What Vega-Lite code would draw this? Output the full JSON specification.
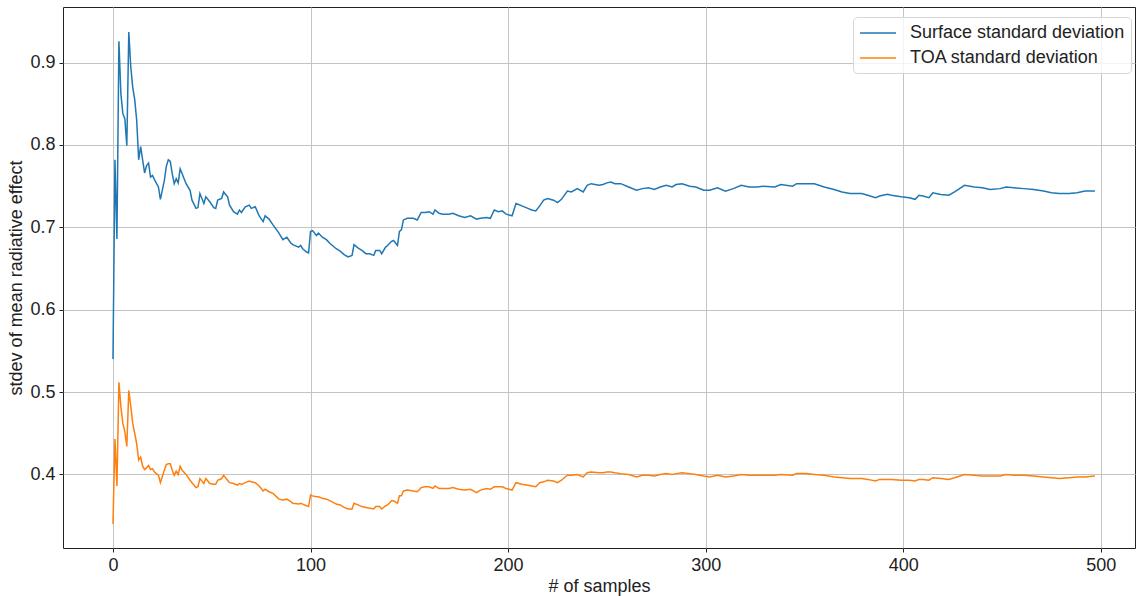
{
  "$schema": "https://vega.github.io/schema/vega-lite/v6.json",
  "autosize": {"type": "none"},
  "padding": {"left": 63, "top": 7, "right": 1, "bottom": 48},
  "width": 1072,
  "height": 541,
  "background": "white",
  "config": {
    "font": "Liberation Sans",
    "view": {"stroke": "#222", "strokeWidth": 1},
    "axis": {
      "labelFont": "Liberation Sans",
      "titleFont": "Liberation Sans",
      "labelFontSize": 18,
      "titleFontSize": 18,
      "titleFontWeight": "normal",
      "labelColor": "#222",
      "titleColor": "#222",
      "gridColor": "#c4c4c4",
      "gridWidth": 1,
      "tickColor": "#222",
      "tickSize": 4,
      "domain": false
    }
  },
  "data": {
    "values": [
      {"n":0,"surface":0.540,"toa":0.340},
      {"n":1,"surface":0.782,"toa":0.443},
      {"n":2,"surface":0.686,"toa":0.386},
      {"n":3,"surface":0.926,"toa":0.512},
      {"n":4,"surface":0.862,"toa":0.482},
      {"n":5,"surface":0.838,"toa":0.462},
      {"n":6,"surface":0.832,"toa":0.452},
      {"n":7,"surface":0.799,"toa":0.434},
      {"n":8,"surface":0.937,"toa":0.502},
      {"n":9,"surface":0.895,"toa":0.483},
      {"n":10,"surface":0.870,"toa":0.462},
      {"n":11,"surface":0.855,"toa":0.450},
      {"n":12,"surface":0.830,"toa":0.437},
      {"n":13,"surface":0.782,"toa":0.4175},
      {"n":14,"surface":0.798,"toa":0.421},
      {"n":15,"surface":0.782,"toa":0.410},
      {"n":16,"surface":0.766,"toa":0.406},
      {"n":17,"surface":0.775,"toa":0.408},
      {"n":18,"surface":0.778,"toa":0.411},
      {"n":19,"surface":0.761,"toa":0.406},
      {"n":20,"surface":0.763,"toa":0.407},
      {"n":21,"surface":0.758,"toa":0.403},
      {"n":23,"surface":0.749,"toa":0.399},
      {"n":24,"surface":0.734,"toa":0.390},
      {"n":26,"surface":0.757,"toa":0.405},
      {"n":27,"surface":0.774,"toa":0.412},
      {"n":28,"surface":0.782,"toa":0.413},
      {"n":29,"surface":0.780,"toa":0.413},
      {"n":30,"surface":0.765,"toa":0.405},
      {"n":31,"surface":0.753,"toa":0.399},
      {"n":32,"surface":0.759,"toa":0.404},
      {"n":33,"surface":0.754,"toa":0.400},
      {"n":34,"surface":0.771,"toa":0.410},
      {"n":35,"surface":0.765,"toa":0.405},
      {"n":37,"surface":0.753,"toa":0.400},
      {"n":39,"surface":0.745,"toa":0.393},
      {"n":40,"surface":0.733,"toa":0.390},
      {"n":42,"surface":0.723,"toa":0.384},
      {"n":43,"surface":0.724,"toa":0.385},
      {"n":44,"surface":0.741,"toa":0.395},
      {"n":46,"surface":0.729,"toa":0.389},
      {"n":47,"surface":0.737,"toa":0.395},
      {"n":49,"surface":0.731,"toa":0.389},
      {"n":51,"surface":0.724,"toa":0.388},
      {"n":52,"surface":0.723,"toa":0.388},
      {"n":53,"surface":0.733,"toa":0.393},
      {"n":55,"surface":0.735,"toa":0.395},
      {"n":56,"surface":0.743,"toa":0.399},
      {"n":58,"surface":0.737,"toa":0.393},
      {"n":59,"surface":0.727,"toa":0.390},
      {"n":61,"surface":0.719,"toa":0.389},
      {"n":63,"surface":0.716,"toa":0.387},
      {"n":64,"surface":0.721,"toa":0.389},
      {"n":65,"surface":0.718,"toa":0.388},
      {"n":67,"surface":0.725,"toa":0.390},
      {"n":69,"surface":0.727,"toa":0.392},
      {"n":70,"surface":0.723,"toa":0.391},
      {"n":72,"surface":0.725,"toa":0.390},
      {"n":74,"surface":0.714,"toa":0.386},
      {"n":76,"surface":0.707,"toa":0.380},
      {"n":77,"surface":0.714,"toa":0.382},
      {"n":79,"surface":0.710,"toa":0.379},
      {"n":81,"surface":0.703,"toa":0.377},
      {"n":84,"surface":0.693,"toa":0.370},
      {"n":86,"surface":0.685,"toa":0.369},
      {"n":88,"surface":0.688,"toa":0.370},
      {"n":90,"surface":0.681,"toa":0.367},
      {"n":91,"surface":0.679,"toa":0.365},
      {"n":94,"surface":0.676,"toa":0.364},
      {"n":95,"surface":0.678,"toa":0.365},
      {"n":96,"surface":0.674,"toa":0.364},
      {"n":98,"surface":0.670,"toa":0.362},
      {"n":99,"surface":0.669,"toa":0.361},
      {"n":100,"surface":0.695,"toa":0.375},
      {"n":101,"surface":0.696,"toa":0.374},
      {"n":103,"surface":0.690,"toa":0.373},
      {"n":104,"surface":0.693,"toa":0.373},
      {"n":106,"surface":0.688,"toa":0.371},
      {"n":108,"surface":0.685,"toa":0.370},
      {"n":110,"surface":0.680,"toa":0.368},
      {"n":113,"surface":0.674,"toa":0.364},
      {"n":115,"surface":0.671,"toa":0.363},
      {"n":117,"surface":0.667,"toa":0.360},
      {"n":119,"surface":0.664,"toa":0.358},
      {"n":121,"surface":0.666,"toa":0.358},
      {"n":122,"surface":0.679,"toa":0.365},
      {"n":124,"surface":0.675,"toa":0.363},
      {"n":126,"surface":0.672,"toa":0.361},
      {"n":128,"surface":0.668,"toa":0.360},
      {"n":130,"surface":0.668,"toa":0.359},
      {"n":132,"surface":0.666,"toa":0.358},
      {"n":133,"surface":0.672,"toa":0.361},
      {"n":135,"surface":0.672,"toa":0.361},
      {"n":136,"surface":0.668,"toa":0.358},
      {"n":138,"surface":0.676,"toa":0.362},
      {"n":139,"surface":0.678,"toa":0.363},
      {"n":141,"surface":0.683,"toa":0.368},
      {"n":142,"surface":0.684,"toa":0.368},
      {"n":144,"surface":0.678,"toa":0.365},
      {"n":145,"surface":0.695,"toa":0.374},
      {"n":146,"surface":0.697,"toa":0.374},
      {"n":147,"surface":0.709,"toa":0.380},
      {"n":149,"surface":0.711,"toa":0.381},
      {"n":152,"surface":0.711,"toa":0.380},
      {"n":154,"surface":0.709,"toa":0.379},
      {"n":156,"surface":0.718,"toa":0.384},
      {"n":158,"surface":0.718,"toa":0.385},
      {"n":160,"surface":0.719,"toa":0.385},
      {"n":162,"surface":0.716,"toa":0.383},
      {"n":163,"surface":0.721,"toa":0.386},
      {"n":165,"surface":0.717,"toa":0.383},
      {"n":167,"surface":0.716,"toa":0.383},
      {"n":170,"surface":0.716,"toa":0.383},
      {"n":172,"surface":0.717,"toa":0.384},
      {"n":175,"surface":0.714,"toa":0.382},
      {"n":178,"surface":0.712,"toa":0.381},
      {"n":181,"surface":0.714,"toa":0.382},
      {"n":184,"surface":0.710,"toa":0.378},
      {"n":186,"surface":0.711,"toa":0.381},
      {"n":189,"surface":0.712,"toa":0.383},
      {"n":191,"surface":0.711,"toa":0.382},
      {"n":193,"surface":0.721,"toa":0.385},
      {"n":195,"surface":0.719,"toa":0.385},
      {"n":197,"surface":0.720,"toa":0.385},
      {"n":199,"surface":0.716,"toa":0.383},
      {"n":202,"surface":0.714,"toa":0.381},
      {"n":204,"surface":0.729,"toa":0.390},
      {"n":207,"surface":0.726,"toa":0.388},
      {"n":210,"surface":0.723,"toa":0.387},
      {"n":212,"surface":0.721,"toa":0.386},
      {"n":214,"surface":0.720,"toa":0.385},
      {"n":216,"surface":0.726,"toa":0.390},
      {"n":218,"surface":0.733,"toa":0.391},
      {"n":220,"surface":0.735,"toa":0.393},
      {"n":223,"surface":0.733,"toa":0.392},
      {"n":225,"surface":0.730,"toa":0.390},
      {"n":227,"surface":0.734,"toa":0.393},
      {"n":230,"surface":0.744,"toa":0.399},
      {"n":232,"surface":0.743,"toa":0.399},
      {"n":235,"surface":0.747,"toa":0.400},
      {"n":238,"surface":0.743,"toa":0.397},
      {"n":240,"surface":0.751,"toa":0.402},
      {"n":242,"surface":0.753,"toa":0.403},
      {"n":246,"surface":0.751,"toa":0.402},
      {"n":248,"surface":0.752,"toa":0.402},
      {"n":250,"surface":0.754,"toa":0.403},
      {"n":252,"surface":0.755,"toa":0.403},
      {"n":254,"surface":0.753,"toa":0.402},
      {"n":257,"surface":0.753,"toa":0.401},
      {"n":261,"surface":0.749,"toa":0.400},
      {"n":265,"surface":0.745,"toa":0.397},
      {"n":268,"surface":0.747,"toa":0.399},
      {"n":271,"surface":0.748,"toa":0.399},
      {"n":274,"surface":0.746,"toa":0.398},
      {"n":277,"surface":0.749,"toa":0.400},
      {"n":280,"surface":0.751,"toa":0.401},
      {"n":283,"surface":0.749,"toa":0.400},
      {"n":285,"surface":0.752,"toa":0.401},
      {"n":288,"surface":0.753,"toa":0.402},
      {"n":292,"surface":0.750,"toa":0.401},
      {"n":295,"surface":0.749,"toa":0.400},
      {"n":299,"surface":0.745,"toa":0.398},
      {"n":302,"surface":0.745,"toa":0.397},
      {"n":306,"surface":0.748,"toa":0.399},
      {"n":310,"surface":0.744,"toa":0.397},
      {"n":314,"surface":0.747,"toa":0.398},
      {"n":318,"surface":0.751,"toa":0.400},
      {"n":322,"surface":0.749,"toa":0.399},
      {"n":326,"surface":0.749,"toa":0.399},
      {"n":329,"surface":0.750,"toa":0.399},
      {"n":335,"surface":0.749,"toa":0.399},
      {"n":338,"surface":0.752,"toa":0.400},
      {"n":344,"surface":0.750,"toa":0.399},
      {"n":346,"surface":0.753,"toa":0.401},
      {"n":351,"surface":0.753,"toa":0.401},
      {"n":355,"surface":0.753,"toa":0.400},
      {"n":360,"surface":0.749,"toa":0.399},
      {"n":365,"surface":0.746,"toa":0.397},
      {"n":369,"surface":0.743,"toa":0.396},
      {"n":373,"surface":0.741,"toa":0.395},
      {"n":379,"surface":0.741,"toa":0.395},
      {"n":382,"surface":0.739,"toa":0.394},
      {"n":386,"surface":0.736,"toa":0.392},
      {"n":388,"surface":0.738,"toa":0.394},
      {"n":392,"surface":0.740,"toa":0.394},
      {"n":394,"surface":0.739,"toa":0.394},
      {"n":399,"surface":0.737,"toa":0.393},
      {"n":403,"surface":0.736,"toa":0.393},
      {"n":406,"surface":0.734,"toa":0.392},
      {"n":408,"surface":0.739,"toa":0.394},
      {"n":410,"surface":0.738,"toa":0.394},
      {"n":413,"surface":0.736,"toa":0.393},
      {"n":415,"surface":0.742,"toa":0.396},
      {"n":419,"surface":0.740,"toa":0.395},
      {"n":423,"surface":0.739,"toa":0.394},
      {"n":426,"surface":0.743,"toa":0.396},
      {"n":431,"surface":0.751,"toa":0.400},
      {"n":436,"surface":0.749,"toa":0.399},
      {"n":440,"surface":0.748,"toa":0.398},
      {"n":444,"surface":0.746,"toa":0.398},
      {"n":449,"surface":0.747,"toa":0.398},
      {"n":452,"surface":0.749,"toa":0.400},
      {"n":456,"surface":0.748,"toa":0.399},
      {"n":461,"surface":0.747,"toa":0.399},
      {"n":466,"surface":0.746,"toa":0.398},
      {"n":471,"surface":0.744,"toa":0.397},
      {"n":475,"surface":0.742,"toa":0.396},
      {"n":479,"surface":0.741,"toa":0.395},
      {"n":484,"surface":0.741,"toa":0.396},
      {"n":488,"surface":0.742,"toa":0.397},
      {"n":492,"surface":0.744,"toa":0.397},
      {"n":497,"surface":0.744,"toa":0.398}
    ]
  },
  "transform": [
    {"fold": ["surface", "toa"], "as": ["series", "value"]}
  ],
  "mark": {"type": "line", "strokeWidth": 1.5, "clip": true},
  "encoding": {
    "x": {
      "field": "n",
      "type": "quantitative",
      "scale": {"domain": [-25.3, 517.3], "nice": false, "zero": false},
      "axis": {
        "title": "# of samples",
        "values": [0, 100, 200, 300, 400, 500],
        "format": "d",
        "labelPadding": 4,
        "titlePadding": 3
      }
    },
    "y": {
      "field": "value",
      "type": "quantitative",
      "scale": {"domain": [0.3107, 0.9675], "nice": false, "zero": false},
      "axis": {
        "title": "stdev of mean radiative effect",
        "values": [0.4, 0.5, 0.6, 0.7, 0.8, 0.9],
        "format": ".1f",
        "labelPadding": 4,
        "titlePadding": 4
      }
    },
    "color": {
      "field": "series",
      "type": "nominal",
      "scale": {"domain": ["surface", "toa"], "range": ["#1f77b4", "#ff7f0e"]},
      "legend": {
        "title": null,
        "orient": "none",
        "legendX": 790,
        "legendY": 10,
        "padding": 6,
        "strokeColor": "#d6d6d6",
        "fillColor": "rgba(255,255,255,0.8)",
        "cornerRadius": 4,
        "symbolType": "M-1,0H3",
        "symbolSize": 324,
        "symbolStrokeWidth": 1.5,
        "labelFont": "Liberation Sans",
        "labelFontSize": 18,
        "labelColor": "#222",
        "labelOffset": 31,
        "labelLimit": 400,
        "rowPadding": 6,
        "labelExpr": "datum.label == 'surface' ? 'Surface standard deviation' : 'TOA standard deviation'"
      }
    }
  }
}
